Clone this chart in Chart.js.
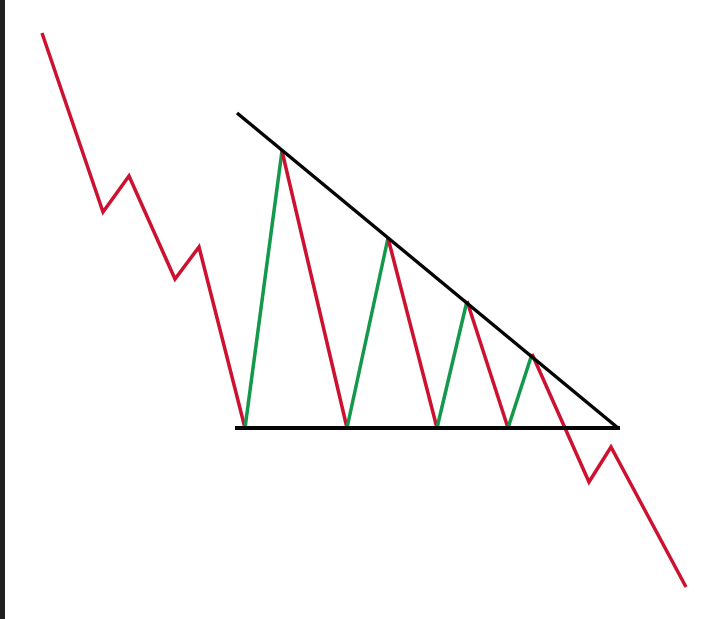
<!DOCTYPE html>
<html>
<head>
<meta charset="utf-8">
<script src="https://cdn.jsdelivr.net/npm/chart.js@4/dist/chart.umd.min.js"></script>
<style>
  html, body { margin: 0; padding: 0; background: #ffffff; }
  #wrap { position: relative; width: 728px; height: 619px; overflow: hidden; }
  #edge { position: absolute; left: 0; top: 0; width: 5px; height: 619px; background: #1f1f1f; }
  canvas { position: absolute; left: 0; top: 0; }
</style>
</head>
<body>
<div id="wrap">
  <canvas id="c" width="728" height="619"></canvas>
  <div id="edge"></div>
</div>
<script>
// Time positions of the swing points (horizontal units)
const swingTime  = [42, 103, 129, 175, 199, 245, 282, 347, 388, 437, 467, 508, 532, 589, 611, 686];
// Price at each swing point (vertical units, higher = up)
const swingPrice = [586, 407, 443, 340, 372, 191, 468, 191, 381, 191, 318, 191, 265, 137, 172, 32];

// Descending resistance line (start / end)
const resistTime  = [237, 618];
const resistPrice = [506, 191];

// Horizontal support line (start / end)
const supportTime  = [235, 620];
const supportPrice = [191, 191];

const supportLevel = 191;

const RED = '#cc1230';
const GREEN = '#14984c';
const BLACK = '#050505';

function pts(xs, ys) { return xs.map((x, i) => ({ x: x, y: ys[i] })); }

new Chart(document.getElementById('c'), {
  type: 'line',
  data: {
    datasets: [
      {
        label: 'Resistance',
        data: pts(resistTime, resistPrice),
        borderColor: BLACK,
        borderWidth: 3.5,
        pointRadius: 0,
        order: 0
      },
      {
        label: 'Support',
        data: pts(supportTime, supportPrice),
        borderColor: BLACK,
        borderWidth: 4,
        pointRadius: 0,
        order: 0
      },
      {
        label: 'Price',
        data: pts(swingTime, swingPrice),
        borderColor: RED,
        borderWidth: 3.5,
        pointRadius: 0,
        borderJoinStyle: 'miter',
        order: 1,
        segment: {
          borderColor: ctx => (ctx.p0.parsed.y === supportLevel && ctx.p1.parsed.y > ctx.p0.parsed.y && ctx.p0DataIndex < 12) ? GREEN : RED
        }
      }
    ]
  },
  options: {
    responsive: false,
    animation: false,
    devicePixelRatio: 1,
    layout: { padding: 0 },
    plugins: { legend: { display: false }, tooltip: { enabled: false } },
    scales: {
      x: { type: 'linear', min: 0, max: 728, display: false },
      y: { type: 'linear', min: 0, max: 619, display: false }
    }
  }
});
</script>
</body>
</html>
